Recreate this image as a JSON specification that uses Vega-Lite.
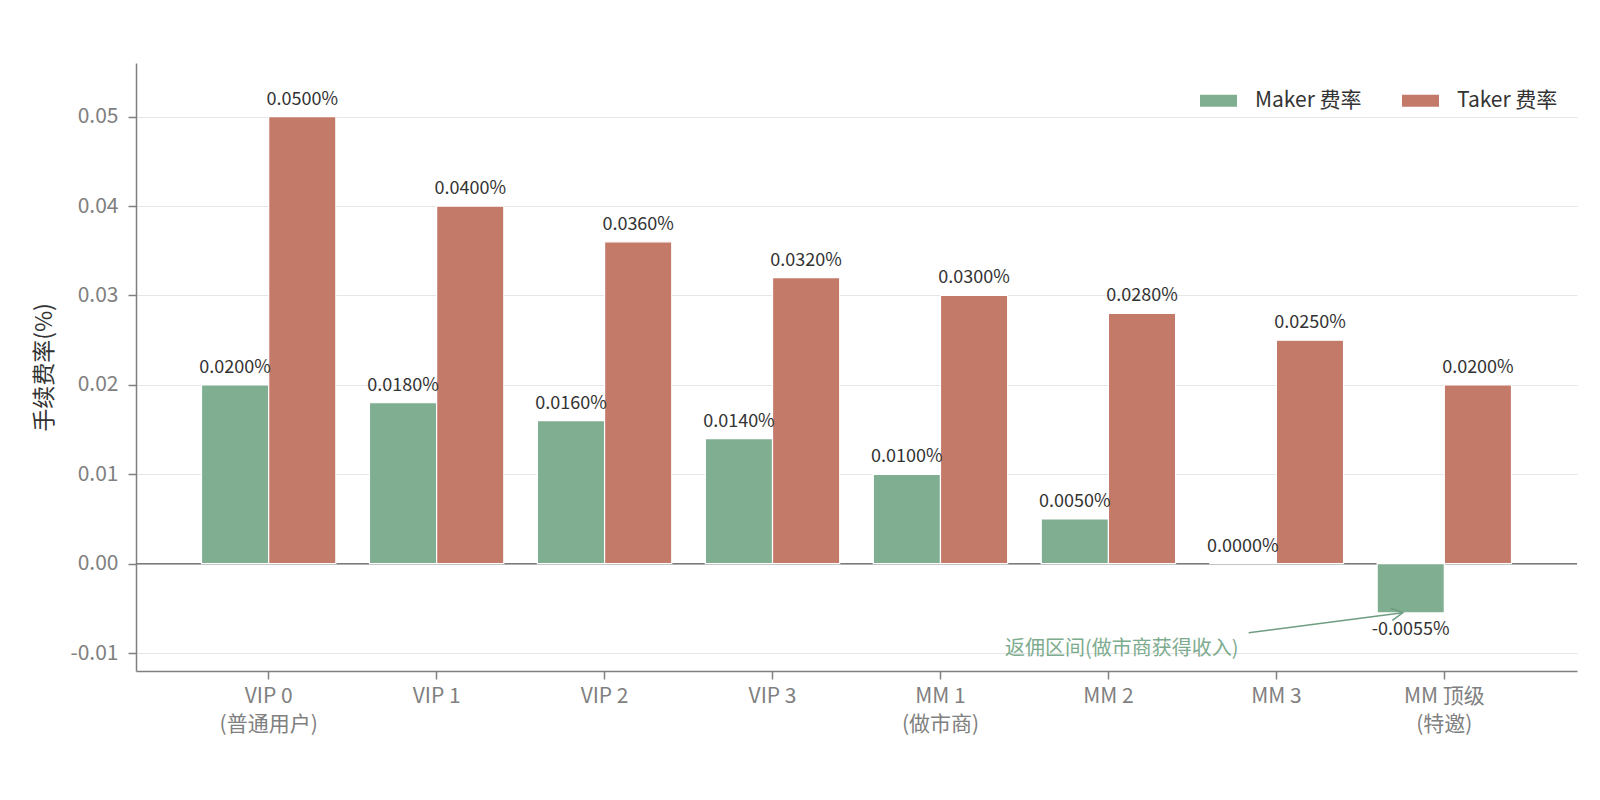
{
  "$schema": "https://vega.github.io/schema/vega-lite/v6.json",
  "width": 1441,
  "height": 608,
  "autosize": {"type": "none"},
  "padding": {"left": 136, "top": 63, "right": 23, "bottom": 129},
  "background": "white",
  "datasets": {
    "fees": [
      {"tier": "VIP 0", "type": "Maker 费率", "rate": 0.02},
      {"tier": "VIP 0", "type": "Taker 费率", "rate": 0.05},
      {"tier": "VIP 1", "type": "Maker 费率", "rate": 0.018},
      {"tier": "VIP 1", "type": "Taker 费率", "rate": 0.04},
      {"tier": "VIP 2", "type": "Maker 费率", "rate": 0.016},
      {"tier": "VIP 2", "type": "Taker 费率", "rate": 0.036},
      {"tier": "VIP 3", "type": "Maker 费率", "rate": 0.014},
      {"tier": "VIP 3", "type": "Taker 费率", "rate": 0.032},
      {"tier": "MM 1", "type": "Maker 费率", "rate": 0.01},
      {"tier": "MM 1", "type": "Taker 费率", "rate": 0.03},
      {"tier": "MM 2", "type": "Maker 费率", "rate": 0.005},
      {"tier": "MM 2", "type": "Taker 费率", "rate": 0.028},
      {"tier": "MM 3", "type": "Maker 费率", "rate": 0.0},
      {"tier": "MM 3", "type": "Taker 费率", "rate": 0.025},
      {"tier": "MM 顶级", "type": "Maker 费率", "rate": -0.0055},
      {"tier": "MM 顶级", "type": "Taker 费率", "rate": 0.02}
    ],
    "note": [
      {"x": 5.08, "rate": -0.0095, "text": "返佣区间(做市商获得收入)"}
    ],
    "arrow": [
      {"x": 5.835, "rate": -0.00773, "x2": 6.752, "rate2": -0.00549}
    ]
  },
  "layer": [
    {
      "data": {"values": [{"rate": 0}]},
      "mark": {"type": "rule", "color": "#7a7a7a", "strokeWidth": 1.6},
      "encoding": {
        "y": {"field": "rate", "type": "quantitative", "title": "手续费率(%)"}
      }
    },
    {
      "data": {"name": "fees"},
      "transform": [
        {"calculate": "replace(format(datum.rate, '.4f'), '−', '-') + '%'", "as": "label"}
      ],
      "encoding": {
        "x": {
          "field": "tier",
          "type": "nominal",
          "sort": null,
          "scale": {"paddingInner": 0.2, "paddingOuter": 0.39},
          "axis": {
            "title": null,
            "labelAngle": 0,
            "labelExpr": "datum.label == 'VIP 0' ? ['VIP 0', '(普通用户)'] : datum.label == 'MM 1' ? ['MM 1', '(做市商)'] : datum.label == 'MM 顶级' ? ['MM 顶级', '(特邀)'] : datum.label",
            "labelLineHeight": 28,
            "labelBaseline": "top",
            "labelPadding": 6
          }
        },
        "xOffset": {"field": "type", "type": "nominal", "sort": ["Maker 费率", "Taker 费率"]},
        "y": {
          "field": "rate",
          "type": "quantitative",
          "title": "手续费率(%)",
          "scale": {"domain": [-0.012, 0.056], "nice": false, "zero": false},
          "axis": {
            "values": [-0.01, 0, 0.01, 0.02, 0.03, 0.04, 0.05],
            "labelExpr": "replace(format(datum.value, '.2f'), '−', '-')",
            "grid": true
          }
        }
      },
      "layer": [
        {
          "mark": {"type": "bar", "stroke": "white", "strokeWidth": 1.2},
          "encoding": {
            "color": {
              "field": "type",
              "type": "nominal",
              "scale": {"domain": ["Maker 费率", "Taker 费率"], "range": ["#80ae91", "#c47a69"]},
              "legend": {"orient": "top-right", "direction": "horizontal", "title": null}
            }
          }
        },
        {
          "transform": [{"filter": "datum.rate >= 0"}],
          "mark": {"type": "text", "baseline": "alphabetic", "dy": -12, "fontSize": 18, "color": "#333333"},
          "encoding": {"text": {"field": "label"}}
        },
        {
          "transform": [{"filter": "datum.rate < 0"}],
          "mark": {"type": "text", "baseline": "top", "dy": 8, "fontSize": 18, "color": "#333333"},
          "encoding": {"text": {"field": "label"}}
        }
      ]
    },
    {
      "layer": [
        {
          "data": {"name": "note"},
          "mark": {"type": "text", "fontSize": 20, "color": "#7dab8e", "baseline": "middle"},
          "encoding": {
            "x": {"field": "x", "type": "quantitative", "scale": {"domain": [-0.79, 7.79], "nice": false, "zero": false}, "axis": null},
            "y": {"field": "rate", "type": "quantitative", "title": "手续费率(%)"},
            "text": {"field": "text"}
          }
        },
        {
          "data": {"name": "arrow"},
          "mark": {"type": "rule", "color": "#6f9c81", "strokeWidth": 1.6},
          "encoding": {
            "x": {"field": "x", "type": "quantitative", "scale": {"domain": [-0.79, 7.79], "nice": false, "zero": false}, "axis": null},
            "x2": {"field": "x2"},
            "y": {"field": "rate", "type": "quantitative", "title": "手续费率(%)"},
            "y2": {"field": "rate2"}
          }
        },
        {
          "data": {"name": "arrow"},
          "mark": {"type": "point", "shape": "M-1,-0.55L0,0L-1,0.55", "filled": false, "size": 500, "angle": -7.4, "color": "#6f9c81", "strokeWidth": 1.6, "opacity": 1},
          "encoding": {
            "x": {"field": "x2", "type": "quantitative", "scale": {"domain": [-0.79, 7.79], "nice": false, "zero": false}, "axis": null},
            "y": {"field": "rate2", "type": "quantitative", "title": "手续费率(%)"}
          }
        }
      ]
    }
  ],
  "resolve": {"scale": {"x": "independent"}},
  "config": {
    "font": "Noto Sans CJK SC",
    "view": {"stroke": null},
    "axis": {
      "domainColor": "#808080",
      "domainWidth": 1.5,
      "tickColor": "#808080",
      "tickWidth": 1.5,
      "tickSize": 8,
      "labelColor": "#808080",
      "labelFontSize": 21,
      "labelFont": "Noto Sans CJK SC",
      "titleFont": "Noto Sans CJK SC",
      "titleColor": "#333333",
      "titleFontSize": 23,
      "titleFontWeight": "normal",
      "gridColor": "#e6e6e6",
      "gridWidth": 1.2
    },
    "axisX": {"grid": false},
    "axisY": {"labelPadding": 10, "titlePadding": 13},
    "legend": {
      "labelFontSize": 21,
      "labelColor": "#333333",
      "labelFont": "Noto Sans CJK SC",
      "symbolType": "M-1,-0.32H1V0.32H-1Z",
      "symbolSize": 1369,
      "symbolStrokeWidth": 0,
      "symbolOpacity": 1,
      "columnPadding": 40,
      "labelOffset": 18,
      "padding": 7,
      "offset": 12
    }
  }
}
